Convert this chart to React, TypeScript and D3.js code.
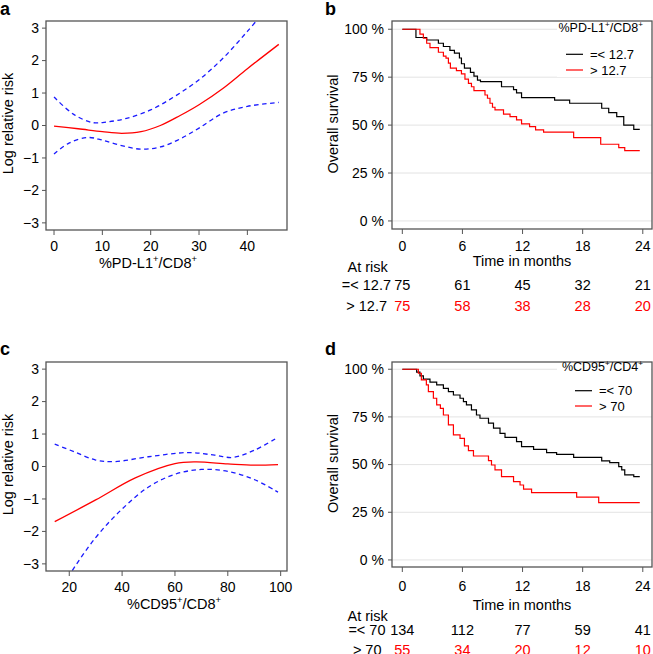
import React from "react";
import * as d3 from "d3";

// ---------- DATA ----------
// Panel a: spline of log relative risk vs %PD-L1+/CD8+
const aFitX = [0, 5, 10, 14, 18, 22, 26, 30, 35, 40, 46.5];
const aFitY = [-0.02, -0.1, -0.19, -0.24, -0.19, 0.0, 0.3, 0.64, 1.15, 1.75, 2.5];
const aUpX = [0, 4, 8, 11, 15, 20, 25, 30, 35, 40, 44];
const aUpY = [0.88, 0.35, 0.09, 0.11, 0.22, 0.48, 0.9, 1.41, 2.08, 2.9, 3.6];
const aLoX = [0, 3, 7, 10, 14, 18, 22, 26, 30, 35, 40, 46.5];
const aLoY = [-0.88, -0.55, -0.37, -0.45, -0.62, -0.73, -0.66, -0.42, -0.08, 0.38, 0.59, 0.71];
const aXTicks = [0, 10, 20, 30, 40];

// Panel c: spline of log relative risk vs %CD95+/CD8+
const cFitX = [14.5, 30, 45, 60, 68, 80, 90, 99];
const cFitY = [-1.7, -1.03, -0.35, 0.09, 0.14, 0.08, 0.04, 0.06];
const cUpX = [14.5, 22, 30, 37, 50, 65, 75, 82, 90, 99];
const cUpY = [0.69, 0.45, 0.2, 0.15, 0.3, 0.43, 0.35, 0.28, 0.5, 0.9];
const cLoX = [15, 20, 30, 40, 50, 60, 70, 80, 90, 99];
const cLoY = [-4.05, -3.35, -2.19, -1.31, -0.63, -0.24, -0.09, -0.15, -0.4, -0.79];
const cXTicks = [20, 40, 60, 80, 100];

const yTicksRisk = [3, 2, 1, 0, -1, -2, -3];

// Panel b: Kaplan-Meier by %PD-L1+/CD8+
const bLowT = [0, 1.36, 2.43, 3.6, 4.1, 4.75, 5.2, 5.7, 5.9, 6.2, 6.8, 7.15, 7.5, 7.8, 9.9, 11.1, 11.4, 11.9, 15.2, 16.7, 19.9, 20.6, 21.4, 22.1, 23.1];
const bLowS = [100, 95.7, 94.4, 92.7, 91, 89, 87.5, 85, 82, 79.7, 77.5, 75.5, 73.5, 72.7, 70, 68.5, 66.8, 64.3, 63, 61.4, 58.8, 56.5, 54.4, 50, 47.8];
const bHighT = [0, 1.76, 2.1, 2.43, 2.76, 3.6, 4.1, 4.36, 4.6, 4.8, 5.4, 5.9, 6.25, 6.6, 6.9, 7.15, 8.25, 8.5, 8.75, 9.0, 9.25, 10.1, 10.75, 11.4, 11.9, 12.7, 13.3, 14.1, 17.1, 19.8, 21.6, 22.2];
const bHighS = [100, 97.5, 95.3, 92.7, 90.4, 88, 86, 84.9, 82.3, 79.7, 78.4, 76.7, 74, 71.8, 70, 68, 65.7, 64, 61.4, 59.3, 57.9, 55.7, 54.4, 52.7, 50.6, 49.2, 47.5, 46.3, 43.5, 40, 38.3, 36.7];
const bEnd = 23.7;
const bRiskLow = [75, 61, 45, 32, 21];
const bRiskHigh = [75, 58, 38, 28, 20];
const bLabels = ["=< 12.7", "> 12.7"];

// Panel d: Kaplan-Meier by %CD95+/CD4+
const dLowT = [0, 1.43, 1.76, 2.1, 2.76, 3.43, 4.1, 4.6, 5.1, 5.76, 6.1, 6.4, 6.9, 7.4, 7.75, 8.6, 9.1, 9.75, 10.25, 11.4, 11.9, 13.1, 14.4, 15.4, 17.1, 19.9, 20.7, 21.6, 21.9, 22.2, 23.1];
const dLowS = [100, 98.5, 96.5, 94.8, 93.2, 91.8, 90, 88.3, 86.5, 84.8, 83, 81.3, 78.7, 76, 74.3, 71.7, 69.1, 66.4, 64.3, 62, 59.4, 58, 56.3, 55.4, 53.8, 51.9, 51, 48.9, 47.2, 44.6, 43.7];
const dHighT = [0, 1.6, 1.9, 2.4, 2.6, 3.1, 3.43, 3.8, 4.1, 4.6, 5.1, 5.76, 6.2, 6.6, 7.1, 8.6, 8.9, 9.25, 9.9, 11.1, 11.75, 12.1, 12.9, 17.4, 19.6];
const dHighS = [100, 97.9, 94.4, 91.8, 88.3, 84.8, 81.3, 79.5, 76, 70.8, 65.6, 63.8, 59.8, 57.3, 54.5, 52.1, 49.8, 47.2, 43.7, 41.1, 39.3, 37.1, 35.3, 32.9, 30.1];
const dEnd = 23.7;
const dRiskLow = [134, 112, 77, 59, 41];
const dRiskHigh = [55, 34, 20, 12, 10];
const dLabels = ["=< 70", "> 70"];

const kmXTicks = [0, 6, 12, 18, 24];
const kmYTicks = [100, 75, 50, 25, 0];

// ---------- STYLE ----------
const FONT = "'Liberation Sans', Arial, Helvetica, sans-serif";
const BOX = "#555";
const RED = "#ff0000";
const BLUE = "#1a1aff";

function SuperLabel({ parts, x, y, size, anchor }: { parts: [string, boolean][]; x: number; y: number; size: number; anchor: string }) {
  let state = false;
  return (
    <text x={x} y={y} fontSize={size} textAnchor={anchor} fontFamily={FONT} dy="0.35em">
      {parts.map(([t, sup], i) => {
        let dy = 0;
        if (sup && !state) dy = -size * 0.4;
        if (!sup && state) dy = size * 0.4;
        state = sup;
        return (
          <tspan key={i} dy={dy} fontSize={sup ? size * 0.65 : size}>
            {t}
          </tspan>
        );
      })}
    </text>
  );
}

function SplinePanel(props: {
  left: number; top: number; w: number; h: number; xDom: [number, number];
  fitX: number[]; fitY: number[]; upX: number[]; upY: number[]; loX: number[]; loY: number[];
  xTicks: number[]; titleParts: [string, boolean][]; titleX: number; letter: string; letterY: number; id: string;
}) {
  const { left, top, w, h } = props;
  const x = d3.scaleLinear().domain(props.xDom).range([left, left + w]);
  const y = d3.scaleLinear().domain([-3.22, 3.22]).range([top + h, top]);
  const line = (xs: number[], ys: number[]) =>
    d3.line<number>().x((_, i) => x(xs[i])).y((_, i) => y(ys[i])).curve(d3.curveCatmullRom.alpha(0.5))(xs) || "";
  return (
    <g>
      <text x={0} y={props.letterY} fontSize={18} fontWeight="bold" fontFamily={FONT}>{props.letter}</text>
      <defs>
        <clipPath id={props.id}>
          <rect x={left} y={top} width={w} height={h} />
        </clipPath>
      </defs>
      <g clipPath={`url(#${props.id})`}>
        <path d={line(props.upX, props.upY)} fill="none" stroke={BLUE} strokeWidth={1.3} strokeDasharray="4.5,3.5" />
        <path d={line(props.loX, props.loY)} fill="none" stroke={BLUE} strokeWidth={1.3} strokeDasharray="4.5,3.5" />
        <path d={line(props.fitX, props.fitY)} fill="none" stroke={RED} strokeWidth={1.3} />
      </g>
      <rect x={left} y={top} width={w} height={h} fill="none" stroke={BOX} strokeWidth={1.3} />
      {yTicksRisk.map((t) => (
        <g key={t}>
          <line x1={left - 4} x2={left} y1={y(t)} y2={y(t)} stroke={BOX} strokeWidth={1} />
          <text x={left - 7} y={y(t)} dy="0.35em" textAnchor="end" fontSize={14} fontFamily={FONT}>
            {t < 0 ? "\u2212" + Math.abs(t) : String(t)}
          </text>
        </g>
      ))}
      {props.xTicks.map((t) => (
        <g key={t}>
          <line x1={x(t)} x2={x(t)} y1={top + h} y2={top + h + 5} stroke={BOX} strokeWidth={1} />
          <text x={x(t)} y={top + h + 16} dy="0.35em" textAnchor="middle" fontSize={14} fontFamily={FONT}>{t}</text>
        </g>
      ))}
      <SuperLabel parts={props.titleParts} x={props.titleX} y={top + h + 38} size={14.5} anchor="middle" />
      <text transform={`translate(7.5,${top + h / 2 - 2}) rotate(-90)`} dy="0.35em" textAnchor="middle" fontSize={14.5} fontFamily={FONT}>
        Log relative risk
      </text>
    </g>
  );
}

function kmPath(ts: number[], ss: number[], end: number, x: d3.ScaleLinear<number, number>, y: d3.ScaleLinear<number, number>) {
  const pts: [number, number][] = ts.map((t, i) => [t, ss[i]]);
  pts.push([end, ss[ss.length - 1]]);
  return d3.line<[number, number]>().x((p) => x(p[0])).y((p) => y(p[1])).curve(d3.curveStepAfter)(pts) || "";
}

function KMPanel(props: {
  left: number; top: number; w: number; h: number; yDom: [number, number];
  lowT: number[]; lowS: number[]; highT: number[]; highS: number[]; end: number;
  riskLow: number[]; riskHigh: number[]; labels: string[]; legendParts: [string, boolean][];
  letter: string; letterY: number; leg: { titleY: number; l1: number; l2: number; lx1: number; lx2: number; tx: number };
  tickY: number; timeY: number; atRiskY: number; row1Y: number; row2Y: number; rowEnd: [number, number];
}) {
  const { left, top, w, h } = props;
  const x = d3.scaleLinear().domain([-1.03, 24.92]).range([left, left + w]);
  const y = d3.scaleLinear().domain(props.yDom).range([top + h, top]);
  const L = props.leg;
  return (
    <g>
      <text x={325} y={props.letterY} fontSize={18} fontWeight="bold" fontFamily={FONT}>{props.letter}</text>
      {kmYTicks.map((t) => (
        <line key={t} x1={left} x2={left + w} y1={y(t)} y2={y(t)} stroke="#e3e3e3" strokeWidth={1} />
      ))}
      <rect x={L.tx - 86} y={top + 1} width={left + w - (L.tx - 86) - 1} height={L.l2 - top + 6} fill="#fff" />
      <path d={kmPath(props.lowT, props.lowS, props.end, x, y)} fill="none" stroke="#000" strokeWidth={1.2} />
      <path d={kmPath(props.highT, props.highS, props.end, x, y)} fill="none" stroke={RED} strokeWidth={1.2} />
      <rect x={left} y={top} width={w} height={h} fill="none" stroke={BOX} strokeWidth={1.3} />
      {kmYTicks.map((t) => (
        <g key={t}>
          <line x1={left - 4} x2={left} y1={y(t)} y2={y(t)} stroke={BOX} strokeWidth={1} />
          <text x={left - 8} y={y(t)} dy="0.35em" textAnchor="end" fontSize={14} fontFamily={FONT}>{t} %</text>
        </g>
      ))}
      {kmXTicks.map((t) => (
        <g key={t}>
          <line x1={x(t)} x2={x(t)} y1={top + h} y2={top + h + 5} stroke={BOX} strokeWidth={1} />
          <text x={x(t)} y={props.tickY} dy="0.35em" textAnchor="middle" fontSize={14} fontFamily={FONT}>{t}</text>
        </g>
      ))}
      <text x={x(12) - 0.5} y={props.timeY} dy="0.35em" textAnchor="middle" fontSize={14.5} fontFamily={FONT}>Time in months</text>
      <text transform={`translate(333,${top + h / 2 - 1}) rotate(-90)`} dy="0.35em" textAnchor="middle" fontSize={14.5} fontFamily={FONT}>
        Overall survival
      </text>
      {/* legend */}
      <SuperLabel parts={props.legendParts} x={L.tx} y={L.titleY} size={12.5} anchor="end" />
      <line x1={L.lx1} x2={L.lx2} y1={L.l1} y2={L.l1} stroke="#000" strokeWidth={1.2} />
      <line x1={L.lx1} x2={L.lx2} y1={L.l2} y2={L.l2} stroke={RED} strokeWidth={1.2} />
      <text x={L.lx2 + 7} y={L.l1} dy="0.35em" fontSize={13} fontFamily={FONT}>{props.labels[0]}</text>
      <text x={L.lx2 + 7} y={L.l2} dy="0.35em" fontSize={13} fontFamily={FONT}>{props.labels[1]}</text>
      {/* at risk */}
      <text x={347.5} y={props.atRiskY} dy="0.35em" fontSize={14.5} fontFamily={FONT}>At risk</text>
      <text x={props.rowEnd[0]} y={props.row1Y} dy="0.35em" textAnchor="end" fontSize={14.5} fontFamily={FONT}>{props.labels[0]}</text>
      <text x={props.rowEnd[1]} y={props.row2Y} dy="0.35em" textAnchor="end" fontSize={14.5} fontFamily={FONT}>{props.labels[1]}</text>
      {kmXTicks.map((t, i) => (
        <g key={t}>
          <text x={x(t)} y={props.row1Y} dy="0.35em" textAnchor="middle" fontSize={14.5} fontFamily={FONT}>{props.riskLow[i]}</text>
          <text x={x(t)} y={props.row2Y} dy="0.35em" textAnchor="middle" fontSize={14.5} fontFamily={FONT} fill={RED}>{props.riskHigh[i]}</text>
        </g>
      ))}
    </g>
  );
}

export default function App() {
  return (
    <svg width={653} height={654} style={{ position: "absolute", left: 0, top: 0, background: "#fff" }} fontFamily={FONT}>
      <rect x={0} y={0} width={653} height={654} fill="#fff" />
      <SplinePanel
        id="clipA" letter="a" letterY={15} left={46} top={21} w={241} h={209} xDom={[-1.66, 48.2]}
        fitX={aFitX} fitY={aFitY} upX={aUpX} upY={aUpY} loX={aLoX} loY={aLoY}
        xTicks={aXTicks} titleX={148}
        titleParts={[["%PD-L1", false], ["+", true], ["/CD8", false], ["+", true]]}
      />
      <SplinePanel
        id="clipC" letter="c" letterY={355} left={46} top={362} w={241} h={209} xDom={[11.2, 102.4]}
        fitX={cFitX} fitY={cFitY} upX={cUpX} upY={cUpY} loX={cLoX} loY={cLoY}
        xTicks={cXTicks} titleX={174}
        titleParts={[["%CD95", false], ["+", true], ["/CD8", false], ["+", true]]}
      />
      <KMPanel
        letter="b" letterY={15} left={392} top={21} w={260} h={208} yDom={[-4.2, 104.3]}
        lowT={bLowT} lowS={bLowS} highT={bHighT} highS={bHighS} end={bEnd}
        riskLow={bRiskLow} riskHigh={bRiskHigh} labels={bLabels}
        legendParts={[["%PD-L1", false], ["+", true], ["/CD8", false], ["+", true]]}
        leg={{ titleY: 32, l1: 54.3, l2: 70, lx1: 566, lx2: 583, tx: 643 }}
        tickY={245.7} timeY={261} atRiskY={267} row1Y={285} row2Y={306} rowEnd={[391, 387]}
      />
      <KMPanel
        letter="d" letterY={355} left={392} top={362} w={260} h={205} yDom={[-3.7, 103.8]}
        lowT={dLowT} lowS={dLowS} highT={dHighT} highS={dHighS} end={dEnd}
        riskLow={dRiskLow} riskHigh={dRiskHigh} labels={dLabels}
        legendParts={[["%CD95", false], ["+", true], ["/CD4", false], ["+", true]]}
        leg={{ titleY: 371, l1: 390.7, l2: 406, lx1: 575, lx2: 592, tx: 643 }}
        tickY={586.5} timeY={605} atRiskY={615.5} row1Y={629.5} row2Y={649.5} rowEnd={[385.5, 381.5]}
      />
    </svg>
  );
}
